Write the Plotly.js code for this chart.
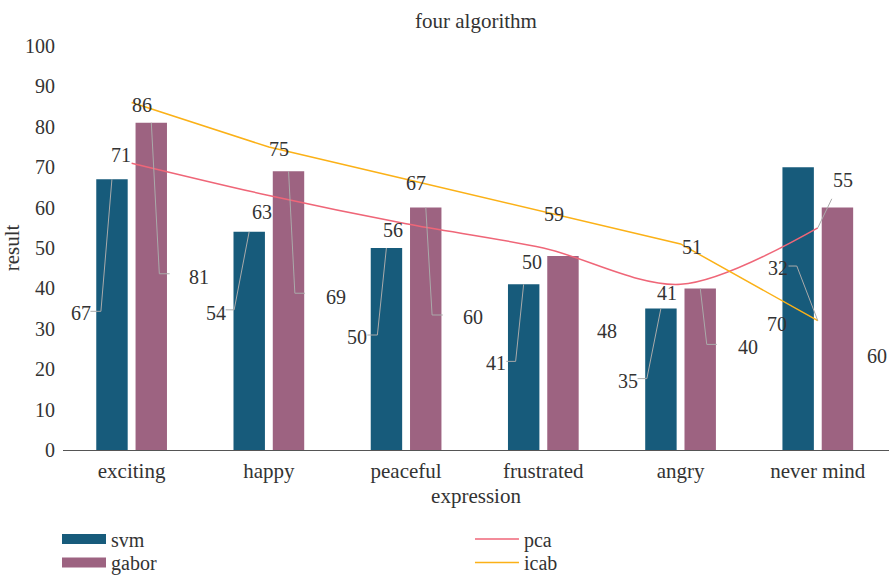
<!DOCTYPE html>
<html>
<head>
<meta charset="utf-8">
<script src="https://cdn.plot.ly/plotly-3.0.1.min.js"></script>
<style>html,body{margin:0;padding:0;background:#fff;}#chart{width:891px;height:577px;}</style>
</head>
<body>
<div id="chart"></div>
<script>
// ---- data ----
var categories = ['exciting', 'happy', 'peaceful', 'frustrated', 'angry', 'never mind'];
var svm   = [67, 54, 50, 41, 35, 70];
var gabor = [81, 69, 60, 48, 40, 60];
var pca   = [71, 63, 56, 50, 41, 55];
var icab  = [86, 75, 67, 59, 51, 32];
var yTicks = [0, 10, 20, 30, 40, 50, 60, 70, 80, 90, 100];

// ---- style ----
var FONT = '"Liberation Serif", "DejaVu Serif", serif';
var TXT = '#333333';
var C_SVM = '#175b7b', C_GABOR = '#9d6381', C_PCA = '#ef6678', C_ICAB = '#fbb117';
var LEAD = '#aaaaaa';
var BAR_SHIFT = 19.7; // px half-slot of grouped bars

// label placement (pixel offsets of label centre from its anchor; screen y downwards)
var svmLab   = [[-31,134],[-33,81],[-29,89],[-28,79],[-33,72],[-21,157]];
var gaborLab = [[48,154],[47,125.5],[47,109.4],[44,74.6],[47.7,58.3],[39.5,148.4]];
var pcaLab   = [[-10.3,-8.2],[-7.2,16.5],[-12.9,6.2],[-11.6,13.7],[-13.3,8.9],[25.5,-47.8]];
var icabLab  = [[10.8,2.9],[10.3,2],[10.1,3.7],[11.1,2.7],[11,2.7],[-40,-52.4]];
// leader lines: [bendDx, bendDy, endDx] relative to anchor
var svmLead   = [[-11,132,-21.5],[-15,78,-23.5],[-9,87,-19],[-8,77,-17.3],[-14,70,-23.3],null];
var gaborLead = [[8,151,18.3],[6.3,122,16.3],[6.3,107.4,17],null,[6.5,56,16.5],null];
var pcaLead   = [null,null,null,null,null,[14,-29,14]];
var icabLead  = [null,null,null,null,null,[-21,-54.7,-29.3]];

var traces = [
  {type:'bar', name:'svm', x:categories, y:svm, marker:{color:C_SVM}, showlegend:false, legendgroup:'svm', hoverinfo:'x+y+name'},
  {type:'bar', name:'gabor', x:categories, y:gabor, marker:{color:C_GABOR}, showlegend:false, legendgroup:'gabor', hoverinfo:'x+y+name'},
  {type:'scatter', mode:'lines', name:'pca', x:categories, y:pca, line:{color:C_PCA, width:1.5, shape:'spline', smoothing:0.9}, showlegend:false, legendgroup:'pca'},
  {type:'scatter', mode:'lines', name:'icab', x:categories, y:icab, line:{color:C_ICAB, width:1.5}, showlegend:false, legendgroup:'icab'},
  // legend entries
  {type:'scatter', mode:'lines', name:'svm', x:[null], y:[null], line:{color:C_SVM, width:10}, legend:'legend', legendgroup:'svm', hoverinfo:'skip'},
  {type:'scatter', mode:'lines', name:'gabor', x:[null], y:[null], line:{color:C_GABOR, width:10}, legend:'legend2', legendgroup:'gabor', hoverinfo:'skip'},
  {type:'scatter', mode:'lines', name:'pca', x:[null], y:[null], line:{color:C_PCA, width:1.5}, legend:'legend3', legendgroup:'pca', hoverinfo:'skip'},
  {type:'scatter', mode:'lines', name:'icab', x:[null], y:[null], line:{color:C_ICAB, width:1.5}, legend:'legend4', legendgroup:'icab', hoverinfo:'skip'}
];

var annotations = [], shapes = [];
function addLabels(vals, labs, leads, shiftX) {
  vals.forEach(function(v, i) {
    var lab = labs[i];
    annotations.push({
      x: categories[i], y: v, xref:'x', yref:'y',
      xshift: shiftX + lab[0], yshift: -lab[1],
      text: String(v), showarrow:false, xanchor:'center', yanchor:'middle',
      font:{family:FONT, size:20, color:TXT}
    });
    var ld = leads[i];
    if (ld) {
      shapes.push({
        type:'path', xref:'x', yref:'y', xsizemode:'pixel', ysizemode:'pixel',
        xanchor: categories[i], yanchor: v,
        path: 'M' + shiftX + ',0 L' + (shiftX + ld[0]) + ',' + (-ld[1]) + ' L' + (shiftX + ld[2]) + ',' + (-ld[1]),
        line:{color:LEAD, width:1}, layer:'above'
      });
    }
  });
}
addLabels(svm, svmLab, svmLead, -BAR_SHIFT);
addLabels(gabor, gaborLab, gaborLead, BAR_SHIFT);
addLabels(pca, pcaLab, pcaLead, 0);
addLabels(icab, icabLab, icabLead, 0);

function legendAt(x, y) {
  return {x:x, y:y, xanchor:'left', yanchor:'top', orientation:'v', bgcolor:'rgba(0,0,0,0)',
    font:{family:FONT, size:20, color:TXT}, itemwidth:44, tracegroupgap:0};
}

var layout = {
  width:891, height:577,
  margin:{l:63, r:2, t:46, b:127, autoexpand:false},
  paper_bgcolor:'#ffffff', plot_bgcolor:'#ffffff',
  font:{family:FONT, size:20, color:TXT},
  title:{text:'four algorithm', x:0.5, xref:'paper', xanchor:'center', y:0.965, yref:'container', yanchor:'middle', font:{family:FONT, size:21, color:TXT}},
  barmode:'group', bargap:0.4275, bargroupgap:0.2,
  xaxis:{type:'category', showline:true, linecolor:'#555555', linewidth:1.2, ticks:'', showgrid:false, zeroline:false,
    tickfont:{family:FONT, size:21, color:TXT}, ticklabelstandoff:2,
    title:{text:'expression', font:{family:FONT, size:21, color:TXT}, standoff:6}},
  yaxis:{range:[0,100], tickvals:yTicks, ticktext:yTicks.map(String), showline:false, showgrid:false, zeroline:false, ticks:'',
    tickfont:{family:FONT, size:20, color:TXT}, ticklabelstandoff:7,
    title:{text:'result', font:{family:FONT, size:21, color:TXT}, standoff:4}},
  showlegend:true,
  legend: legendAt(-0.00726, -0.172),
  legend2: legendAt(-0.00726, -0.230),
  legend3: legendAt(0.4927, -0.172),
  legend4: legendAt(0.4927, -0.230),
  annotations: annotations,
  shapes: shapes
};

Plotly.newPlot('chart', traces, layout, {displayModeBar:false, responsive:false});
</script>
</body>
</html>
